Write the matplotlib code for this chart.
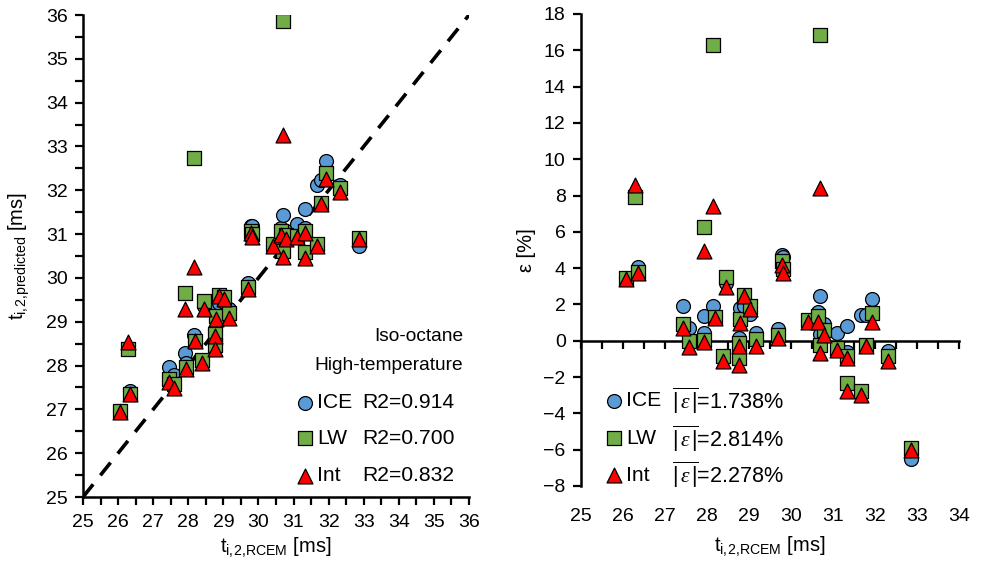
import matplotlib
matplotlib.use("Agg")
import matplotlib.pyplot as plt
from matplotlib.ticker import MultipleLocator
import numpy as np

plt.rcParams['font.family'] = ['Liberation Sans', 'DejaVu Sans']
plt.rcParams['mathtext.fontset'] = 'custom'
plt.rcParams['mathtext.rm'] = 'Liberation Sans'
plt.rcParams['mathtext.sf'] = 'Liberation Sans'
plt.rcParams['mathtext.it'] = 'Liberation Serif:italic'

# Measured ignition delay (RCEM) and relative error of each model [%]
t_rcem = [26.06, 26.35, 26.29, 27.44, 27.58, 27.92, 27.94, 28.15, 28.20, 28.38,
          28.46, 28.77, 28.75, 28.79, 28.88, 29.02, 29.17, 29.70, 29.78, 29.82,
          30.41, 30.65, 30.79, 30.69, 30.69, 31.09, 31.33, 31.33, 31.66, 31.79,
          31.92, 32.32, 32.86]
eps_ice = [3.45, 4.05, 7.90, 1.93, 0.70, 1.34, 0.42, 1.93, 1.30, -0.90,
           3.17, 0.15, -1.00, 1.80, 1.89, 1.45, 0.42, 0.65, 4.73, 4.60,
           1.10, 1.61, 0.90, 0.40, 2.44, 0.42, 0.79, -0.60, 1.43, 1.43,
           2.31, -0.59, -6.50]
eps_lw = [3.45, 3.80, 7.94, 0.94, -0.04, 6.24, 0.06, 16.30, 1.30, -0.86,
          3.54, -0.15, -0.95, 1.22, 2.53, 1.89, 0.10, 0.33, 4.37, 3.95,
          1.16, 1.34, 0.60, -0.22, 16.84, -0.40, -0.86, -2.33, -2.79, -0.22,
          1.52, -0.86, -5.90]
eps_int = [3.39, 3.76, 8.59, 0.70, -0.32, 4.92, -0.09, 7.43, 1.25, -1.14,
           2.95, -0.31, -1.32, 0.97, 2.44, 1.74, -0.31, 0.15, 4.18, 3.72,
           1.06, 1.06, 0.33, -0.68, 8.40, -0.50, -0.95, -2.79, -2.97, -0.31,
           1.06, -1.14, -6.00]

models = ['ICE', 'LW', 'Int']
r2_labels = ['R2=0.914', 'R2=0.700', 'R2=0.832']
mean_abs_eps = ['1.738%', '2.814%', '2.278%']

colors = ['#5B9BD5', '#70AD47', '#FF0000']
markers = ['o', 's', '^']
sizes = [100, 92, 115]

t = np.array(t_rcem)
eps_all = [np.array(eps_ice), np.array(eps_lw), np.array(eps_int)]
pred_all = [t * (1 + e / 100.0) for e in eps_all]

W, H = 981, 571
fig = plt.figure(figsize=(W / 100, H / 100), dpi=100)

FS_TICK = 14
FS_TEXT = 15.2
FS_NOTE = 13.8
X_LABEL = r'$\mathrm{t_{i,\!2,\!RCEM}}$ [ms]'
Y_LABEL = r'$\mathrm{t_{i,\!2,\!predicted}}$ [ms]'

# ---------- left: predicted vs measured ----------
axL = fig.add_axes([83 / W, (H - 497) / H, 386 / W, 482 / H])
axL.plot([25, 36], [25, 36], color='black', lw=2.6, ls=(0, (4.5, 3.2)), zorder=1)
for k in range(3):
    axL.scatter(t, pred_all[k], s=sizes[k], marker=markers[k], c=colors[k],
                edgecolors='black', linewidths=0.9, zorder=2 + k)
axL.set_xlim(25, 36)
axL.set_ylim(25, 36)
axL.xaxis.set_major_locator(MultipleLocator(1))
axL.yaxis.set_major_locator(MultipleLocator(1))
axL.xaxis.set_minor_locator(MultipleLocator(0.5))
axL.yaxis.set_minor_locator(MultipleLocator(0.5))
axL.tick_params(which='both', direction='out', length=6, width=1.6, labelsize=FS_TICK)
axL.tick_params(axis='x', pad=6)
axL.tick_params(axis='y', pad=5)
for s in ['top', 'right']:
    axL.spines[s].set_visible(False)
for s in ['left', 'bottom']:
    axL.spines[s].set_linewidth(1.8)
axL.set_xlabel(X_LABEL, fontsize=FS_TICK + 0.5, labelpad=4)
axL.set_ylabel(Y_LABEL, fontsize=FS_TICK + 0.5, labelpad=10)

axL.text(0.985, 0.332, 'Iso-octane', transform=axL.transAxes, ha='right', va='center', fontsize=FS_NOTE)
axL.text(0.985, 0.272, 'High-temperature', transform=axL.transAxes, ha='right', va='center', fontsize=FS_NOTE)
leg_y = [0.196, 0.122, 0.044]
for k in range(3):
    axL.scatter([0.575], [leg_y[k]], s=sizes[k], marker=markers[k], c=colors[k],
                edgecolors='black', linewidths=0.9, transform=axL.transAxes, clip_on=False, zorder=6)
    axL.text(0.606, leg_y[k], models[k], transform=axL.transAxes, ha='left', va='center', fontsize=FS_TEXT)
    axL.text(0.723, leg_y[k], r2_labels[k], transform=axL.transAxes, ha='left', va='center', fontsize=FS_TEXT)

# ---------- right: relative error ----------
axR = fig.add_axes([581 / W, (H - 486) / H, 378 / W, 472 / H])
for k in range(3):
    axR.scatter(t, eps_all[k], s=sizes[k], marker=markers[k], c=colors[k],
                edgecolors='black', linewidths=0.9, zorder=2 + k)
axR.set_xlim(25, 34)
axR.set_ylim(-8, 18)
axR.xaxis.set_major_locator(MultipleLocator(1))
axR.xaxis.set_minor_locator(MultipleLocator(0.5))
axR.yaxis.set_major_locator(MultipleLocator(2))
axR.spines['right'].set_visible(False)
axR.spines['bottom'].set_visible(False)
axR.spines['top'].set_position(('data', 0))
axR.spines['top'].set_linewidth(1.8)
axR.spines['left'].set_linewidth(1.8)
axR.xaxis.set_ticks_position('both')
axR.tick_params(axis='x', which='both', direction='in', length=6, width=1.6,
                bottom=False, top=True, labelbottom=True, labeltop=False, labelsize=FS_TICK, pad=16)
axR.tick_params(axis='y', which='both', direction='out', length=6, width=1.6, labelsize=FS_TICK, pad=5)
axR.set_xlabel(X_LABEL, fontsize=FS_TICK + 0.5, labelpad=7)
axR.set_ylabel('ε [%]', fontsize=FS_TICK + 0.5, labelpad=5)

leg_yr = [0.181, 0.101, 0.023]
for k in range(3):
    axR.scatter([0.087], [leg_yr[k]], s=sizes[k], marker=markers[k], c=colors[k],
                edgecolors='black', linewidths=0.9, transform=axR.transAxes, clip_on=False, zorder=6)
    axR.text(0.119, leg_yr[k], models[k], transform=axR.transAxes, ha='left', va='center', fontsize=FS_TEXT)
    axR.text(0.240, leg_yr[k], r'$\overline{|\,\varepsilon\,|}$=' + mean_abs_eps[k],
             transform=axR.transAxes, ha='left', va='center', fontsize=FS_TEXT + 0.4)

fig.savefig('out.png', dpi=100)
